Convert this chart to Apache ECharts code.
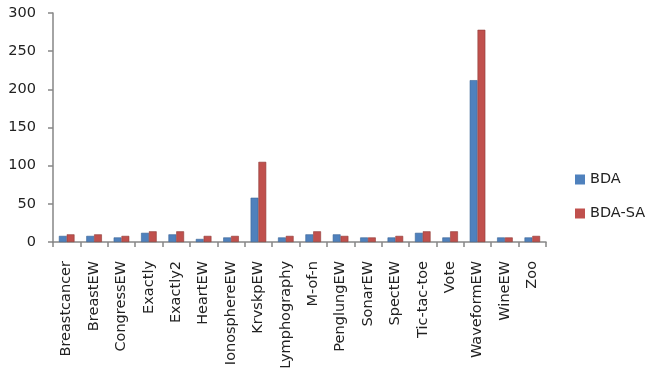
<!DOCTYPE html>
<html>
<head>
<meta charset="utf-8">
<script src="https://cdn.jsdelivr.net/npm/echarts@6/dist/echarts.min.js"></script>
<style>html,body{margin:0;padding:0;background:#fff}#c{width:653px;height:379px}</style>
</head>
<body>
<div id="c"></div>
<script>
var categories = ["Breastcancer","BreastEW","CongressEW","Exactly","Exactly2","HeartEW","IonosphereEW","KrvskpEW","Lymphography","M-of-n","PenglungEW","SonarEW","SpectEW","Tic-tac-toe","Vote","WaveformEW","WineEW","Zoo"];
var bdaValues = [8,8,6,12,10,4,6,58,6,10,10,6,6,12,6,212,6,6];
var bdaSaValues = [10,10,8,14,14,8,8,105,8,14,8,6,8,14,14,278,6,8];
var yTicks = [0,50,100,150,200,250,300];

var chart = echarts.init(document.getElementById('c'), null, {renderer:'canvas'});
var font = 'DejaVu Sans';
chart.setOption({
  animation: false,
  backgroundColor: '#ffffff',
  grid: {left: 53, right: 107, top: 13, bottom: 137},
  legend: {
    orient: 'vertical', left: 570, top: 167,
    itemWidth: 10, itemHeight: 10, itemGap: 19,
    icon: 'rect',
    itemStyle: {borderWidth: 0},
    textStyle: {fontFamily: font, fontSize: 14.5, color: '#222'},
    data: ['BDA','BDA-SA']
  },
  xAxis: {
    type: 'category', data: categories,
    axisLine: {lineStyle: {color: '#868686', width: 1.5}},
    axisTick: {show: true, length: 5, lineStyle: {color: '#868686', width: 1.5}},
    axisLabel: {rotate: 90, margin: 19, fontFamily: font, fontSize: 14.5, color: '#222', interval: 0}
  },
  yAxis: {
    type: 'value', min: yTicks[0], max: yTicks[yTicks.length-1], interval: 50,
    axisLine: {show: true, lineStyle: {color: '#868686', width: 1.5}},
    axisTick: {show: true, length: 5, lineStyle: {color: '#868686', width: 1.5}},
    splitLine: {show: false},
    axisLabel: {margin: 17, fontFamily: font, fontSize: 14.5, color: '#222'}
  },
  series: [
    {name: 'BDA', type: 'bar', data: bdaValues, barGap: '0%', barCategoryGap: '43%',
     itemStyle: {color: '#4F81BD', borderColor: '#3a6496', borderWidth: 0.6}},
    {name: 'BDA-SA', type: 'bar', data: bdaSaValues,
     itemStyle: {color: '#C0504D', borderColor: '#8f3a38', borderWidth: 0.6}}
  ]
});
</script>
</body>
</html>
